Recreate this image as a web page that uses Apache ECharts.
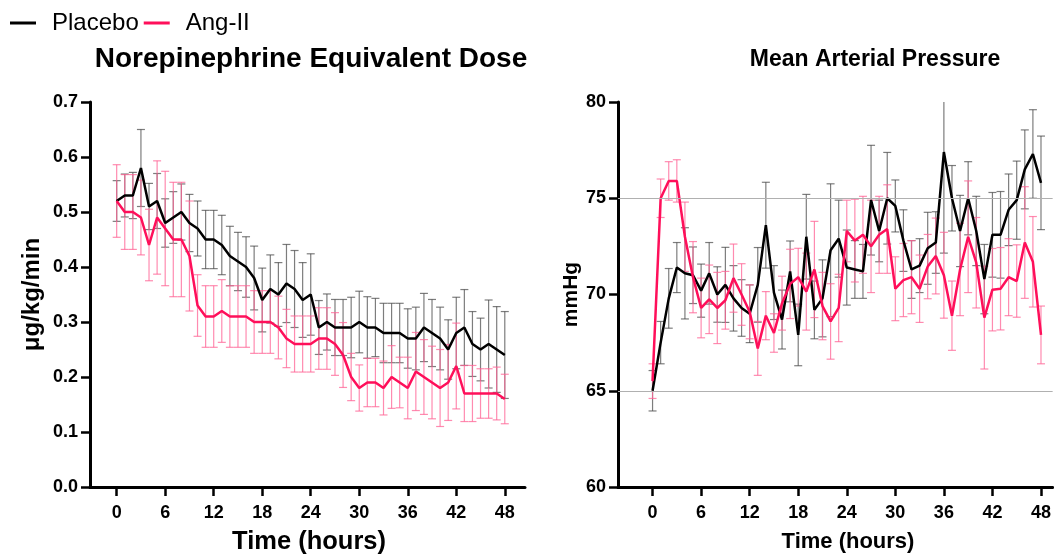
<!DOCTYPE html>
<html>
<head>
<meta charset="utf-8">
<script src="https://cdn.jsdelivr.net/npm/echarts@6/dist/echarts.min.js"></script>
<style>
html,body{margin:0;padding:0;background:#fff;}
#chart{width:1054px;height:554px;}
</style>
</head>
<body>
<div id="chart"></div>
<script>
// ---------- DATA ----------
const hours = [0,1,2,3,4,5,6,7,8,9,10,11,12,13,14,15,16,17,18,19,20,21,22,23,24,25,26,27,28,29,30,31,32,33,34,35,36,37,38,39,40,41,42,43,44,45,46,47,48];
const xTicks = [0,6,12,18,24,30,36,42,48];

// Norepinephrine equivalent dose (µg/kg/min)
const nePlaceboMean = [0.52,0.53,0.53,0.58,0.51,0.52,0.48,0.49,0.50,0.48,0.47,0.45,0.45,0.44,0.42,0.41,0.40,0.38,0.34,0.36,0.35,0.37,0.36,0.34,0.35,0.29,0.30,0.29,0.29,0.29,0.30,0.29,0.29,0.28,0.28,0.28,0.27,0.27,0.29,0.28,0.27,0.25,0.28,0.29,0.26,0.25,0.26,0.25,0.24];
const nePlaceboErr  = [0.037,0.039,0.042,0.070,0.042,0.050,0.044,0.047,0.051,0.052,0.050,0.053,0.053,0.054,0.054,0.053,0.055,0.058,0.058,0.062,0.058,0.071,0.070,0.068,0.074,0.049,0.051,0.051,0.051,0.055,0.056,0.056,0.053,0.054,0.054,0.054,0.054,0.057,0.062,0.061,0.057,0.054,0.065,0.069,0.059,0.057,0.080,0.078,0.079];
const neAngMean     = [0.52,0.50,0.50,0.49,0.44,0.49,0.47,0.45,0.45,0.42,0.33,0.31,0.31,0.32,0.31,0.31,0.31,0.30,0.30,0.30,0.29,0.27,0.26,0.26,0.26,0.27,0.27,0.26,0.24,0.20,0.18,0.19,0.19,0.18,0.20,0.19,0.18,0.21,0.20,0.19,0.18,0.19,0.22,0.17,0.17,0.17,0.17,0.17,0.16];
const neAngErr      = [0.066,0.068,0.068,0.068,0.065,0.103,0.104,0.104,0.104,0.100,0.056,0.056,0.056,0.057,0.056,0.056,0.056,0.057,0.057,0.057,0.057,0.053,0.051,0.051,0.051,0.056,0.056,0.057,0.059,0.043,0.042,0.044,0.044,0.049,0.057,0.046,0.056,0.071,0.068,0.066,0.070,0.069,0.078,0.051,0.051,0.045,0.045,0.048,0.045];

// Mean arterial pressure (mmHg)
const mapPlaceboMean = [65.0,67.5,69.8,71.4,71.1,71.0,70.2,71.1,70.0,70.5,69.8,69.3,69.0,70.5,73.6,70.1,68.7,71.2,67.9,73.0,69.2,69.8,72.3,72.9,71.4,71.3,71.2,74.9,73.3,75.0,74.6,72.8,71.3,71.5,72.4,72.7,77.4,75.0,73.3,75.0,73.3,70.8,73.1,73.1,74.4,74.9,76.5,77.3,75.8];
const mapPlaceboErr  = [1.05,1.10,1.55,1.30,2.37,1.47,1.38,1.60,1.44,1.95,1.70,1.47,1.50,1.94,2.23,1.40,1.53,1.58,1.60,2.20,1.50,2.00,3.45,2.00,1.95,1.50,1.40,2.85,1.60,2.38,1.35,1.60,1.50,1.40,1.87,1.60,5.25,1.70,1.85,1.90,1.80,1.80,2.20,2.25,1.86,2.03,2.05,2.30,2.43];
const mapAngMean     = [65.5,75.0,75.9,75.9,73.0,70.9,69.3,69.75,69.3,69.7,70.85,70.0,69.1,67.2,68.9,68.0,69.55,70.55,70.9,70.15,71.3,69.4,68.6,69.3,73.3,72.8,73.1,72.5,73.1,73.4,70.3,70.75,70.9,70.3,71.45,72.0,71.0,68.9,71.3,73.0,71.65,68.8,70.25,70.3,70.9,70.7,72.7,71.7,67.9];
const mapAngErr      = [0.90,1.00,1.00,1.10,1.80,1.85,1.55,1.78,1.85,1.50,1.77,1.60,1.40,1.40,1.25,1.00,1.40,1.80,1.50,2.00,2.50,1.75,1.96,1.75,1.60,2.15,2.00,2.40,2.00,2.30,1.66,1.90,1.90,1.75,1.67,1.97,2.23,1.80,2.40,2.90,2.35,2.67,2.14,2.14,2.00,1.88,2.90,2.35,1.50];
const mapGridValues  = [65,75];

const seriesNames = ['Placebo','Ang-II'];
const titles = ['Norepinephrine Equivalent Dose','Mean Arterial Pressure'];
const yNames = ['\u03bcg/kg/min','mmHg'];
const xName = 'Time (hours)';

// ---------- STYLE ----------
const BLACK = '#000000';
const PINK = '#ff0f5a';
const BLACK_ERR = 'rgba(70,70,70,0.7)';
const PINK_ERR = 'rgba(255,100,150,0.75)';
const FONT = 'Liberation Sans, Arial, Helvetica, sans-serif';

function pairs(xs, ys){ return xs.map((x,i)=>[x, ys[i]]); }
function errData(xs, m, e){ return xs.map((x,i)=>[x, m[i]-e[i], m[i]+e[i]]); }

function errSeries(name, gridIdx, data, color, extra){
  return Object.assign({
    name: name + ' SEM',
    type: 'custom',
    xAxisIndex: gridIdx, yAxisIndex: gridIdx,
    clip: true,
    silent: true,
    z: 1,
    encode: {x: 0, y: [1, 2]},
    data: data,
    renderItem: function(params, api){
      const x = api.value(0);
      const lo = api.coord([x, api.value(1)]);
      const hi = api.coord([x, api.value(2)]);
      const cw = 4;
      const st = {stroke: color, lineWidth: 1.2};
      return {type: 'group', children: [
        {type: 'line', shape: {x1: hi[0], y1: hi[1], x2: lo[0], y2: lo[1]}, style: st},
        {type: 'line', shape: {x1: hi[0]-cw, y1: hi[1], x2: hi[0]+cw, y2: hi[1]}, style: st},
        {type: 'line', shape: {x1: lo[0]-cw, y1: lo[1], x2: lo[0]+cw, y2: lo[1]}, style: st}
      ]};
    }
  }, extra || {});
}

function lineSeries(name, gridIdx, data, color){
  return {
    name: name, type: 'line', xAxisIndex: gridIdx, yAxisIndex: gridIdx,
    data: data, symbol: 'none', z: 3,
    lineStyle: {color: color, width: 2.5},
    itemStyle: {color: color}
  };
}

const tickFont = {fontFamily: FONT, fontWeight: 'bold', fontSize: 18, color: '#000'};

function xAxisCfg(gridIdx, mn, mx){
  return {
    type: 'value', gridIndex: gridIdx, min: mn, max: mx,
    axisLine: {show: true, onZero: false, lineStyle: {color: '#000', width: 3}},
    axisTick: {show: true, customValues: xTicks, length: 9, lineStyle: {color: '#000', width: 2.5}},
    axisLabel: Object.assign({customValues: xTicks, margin: 17}, tickFont),
    splitLine: {show: false}
  };
}

function yAxisCfg(gridIdx, mn, mx, step, fmt, name, gap, nameSize){
  return {
    type: 'value', gridIndex: gridIdx, min: mn, max: mx, interval: step,
    name: name, nameLocation: 'middle', nameRotate: 90, nameGap: gap,
    nameTextStyle: {fontFamily: FONT, fontWeight: 'bold', fontSize: nameSize, color: '#000'},
    axisLine: {show: true, onZero: false, lineStyle: {color: '#000', width: 3}},
    axisTick: {show: true, length: 9, lineStyle: {color: '#000', width: 2.5}},
    axisLabel: Object.assign({margin: 12, formatter: fmt}, tickFont),
    splitLine: {show: false}
  };
}

function tStyle(size){ return {fontFamily: FONT, fontWeight: 'bold', fontSize: size, color: '#000'}; }

const option = {
  animation: false,
  backgroundColor: '#fff',
  title: [
    {text: titles[0], left: 306, top: 40, textAlign: 'center', textStyle: tStyle(28)},
    {text: titles[1], left: 870, top: 43, textAlign: 'center', textStyle: tStyle(23)},
    {text: xName, left: 304, top: 524, textAlign: 'center', textStyle: tStyle(25.5)},
    {text: xName, left: 843, top: 526, textAlign: 'center', textStyle: tStyle(22)}
  ],
  legend: {
    left: 5, top: 6,
    data: seriesNames,
    icon: 'rect', itemWidth: 26, itemHeight: 3, itemGap: 5,
    textStyle: {fontFamily: FONT, fontSize: 24, color: '#000', padding: [0, 0, 0, 11]}
  },
  grid: [
    {left: 90, top: 102, width: 435, height: 385},
    {left: 618, top: 102, width: 436, height: 385}
  ],
  xAxis: [xAxisCfg(0, -3.3, 50.5), xAxisCfg(1, -4.27, 49.44)],
  yAxis: [
    yAxisCfg(0, 0, 0.7, 0.1, v => v.toFixed(1), yNames[0], 46, 24),
    yAxisCfg(1, 60, 80, 5, v => String(v), yNames[1], 27, 21)
  ],
  series: [
    errSeries(seriesNames[0], 0, errData(hours, nePlaceboMean, nePlaceboErr), BLACK_ERR),
    errSeries(seriesNames[1], 0, errData(hours, neAngMean, neAngErr), PINK_ERR),
    lineSeries(seriesNames[0], 0, pairs(hours, nePlaceboMean), BLACK),
    lineSeries(seriesNames[1], 0, pairs(hours, neAngMean), PINK),
    errSeries(seriesNames[0], 1, errData(hours, mapPlaceboMean, mapPlaceboErr), BLACK_ERR, {
      markLine: {
        silent: true, symbol: 'none', label: {show: false},
        lineStyle: {color: '#b0b0b0', width: 1, type: 'solid'},
        data: mapGridValues.map(v => ({yAxis: v}))
      }
    }),
    errSeries(seriesNames[1], 1, errData(hours, mapAngMean, mapAngErr), PINK_ERR),
    lineSeries(seriesNames[0], 1, pairs(hours, mapPlaceboMean), BLACK),
    lineSeries(seriesNames[1], 1, pairs(hours, mapAngMean), PINK)
  ]
};

const chart = echarts.init(document.getElementById('chart'), null, {renderer: 'canvas'});
chart.setOption(option);
</script>
</body>
</html>
